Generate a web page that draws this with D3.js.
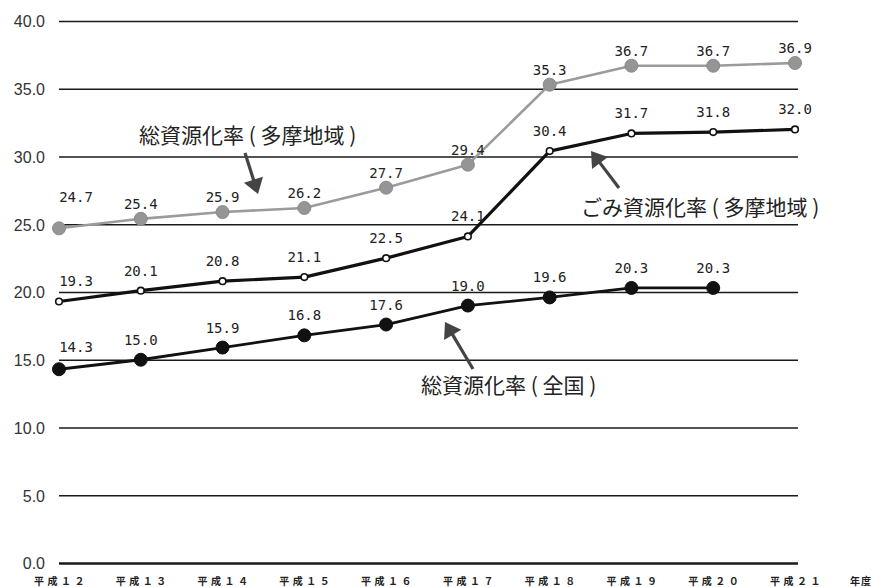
<!DOCTYPE html>
<html><head><meta charset="utf-8">
<script src="https://cdnjs.cloudflare.com/ajax/libs/d3/7.8.5/d3.min.js"></script>
<style>body{margin:0;background:#fff}svg{display:block}</style>
</head><body>
<script>
const categories = ["平成１２","平成１３","平成１４","平成１５","平成１６","平成１７","平成１８","平成１９","平成２０","平成２１"];
const tamaTotal = [24.7,25.4,25.9,26.2,27.7,29.4,35.3,36.7,36.7,36.9];
const tamaGarbage = [19.3,20.1,20.8,21.1,22.5,24.1,30.4,31.7,31.8,32.0];
const national = [14.3,15.0,15.9,16.8,17.6,19.0,19.6,20.3,20.3];
const yTicks = [0,5,10,15,20,25,30,35,40];

const W=876,H=587;
const svg=d3.select("body").append("svg").attr("width",W).attr("height",H);
const x=d3.scalePoint().domain(categories).range([59,795]);
const y=d3.scaleLinear().domain([0,40]).range([563,21]);

// grid
const yAxis=d3.axisLeft(y).tickValues(yTicks).tickFormat(d3.format(".1f")).tickSize(-739);
const gy=svg.append("g").attr("transform","translate(59,0)").call(yAxis);
gy.select(".domain").remove();
gy.selectAll(".tick line").attr("stroke","#1a1a1a").attr("stroke-width",d=>d===0?2.4:1.5);
gy.selectAll(".tick text").attr("font-family","Liberation Sans, Arial, sans-serif").attr("font-size",16).attr("fill","#333").attr("text-anchor","end").attr("x",-14).attr("dy","0.36em");

// x labels
const xAxis=d3.axisBottom(x).tickSize(0).tickPadding(0);
const gx=svg.append("g").attr("transform","translate(0,0)").call(xAxis);
gx.select(".domain").remove();
gx.selectAll(".tick text").attr("font-family","Noto Sans CJK JP").attr("font-size",10).attr("font-weight","bold").attr("letter-spacing","3.5px").attr("fill","#222").attr("y",585).attr("dy","0").attr("dx","1.5px");
svg.append("text").attr("x",861).attr("y",585).attr("text-anchor","middle").attr("font-family","Noto Sans CJK JP").attr("font-size",10).attr("font-weight","bold").attr("fill","#222").attr("letter-spacing","1px").text("年度");

const line=d3.line().x((d,i)=>x(categories[i])).y(d=>y(d));

function series(data,color,lw,r,fill,stroke,sw){
  svg.append("path").attr("d",line(data)).attr("fill","none").attr("stroke",color).attr("stroke-width",lw).attr("stroke-linejoin","round");
  svg.append("g").selectAll("circle").data(data).join("circle")
    .attr("cx",(d,i)=>x(categories[i])).attr("cy",d=>y(d)).attr("r",r)
    .attr("fill",fill).attr("stroke",stroke).attr("stroke-width",sw);
}
series(tamaTotal,"#9b9b9b",2.6,6.5,"#959595","#8a8a8a",1);
series(tamaGarbage,"#111",3.2,3.3,"#fff","#111",1.6);
series(national,"#111",2.8,6.5,"#111","#111",1);

function labels(data,dy,firstDy){
  svg.append("g").selectAll("text").data(data).join("text")
    .attr("x",(d,i)=>x(categories[i])+(i===0?17:0))
    .attr("y",(d,i)=>y(d)+(i===0?firstDy:dy))
    .attr("text-anchor","middle").attr("font-family","DejaVu Sans Mono, monospace").attr("font-size",14).attr("fill","#222")
    .text(d=>d.toFixed(1));
}
labels(tamaTotal,-10,-26);
labels(tamaGarbage,-15,-15);
labels(national,-15,-17);

// annotations
function arrow(x1,y1,x2,y2){
  const a=Math.atan2(y2-y1,x2-x1), L=15, w=10;
  const bx=x2-L*Math.cos(a), by=y2-L*Math.sin(a);
  svg.append("line").attr("x1",x1).attr("y1",y1).attr("x2",bx+2*Math.cos(a)).attr("y2",by+2*Math.sin(a)).attr("stroke","#444").attr("stroke-width",3.2);
  const p=[[x2,y2],[bx+w*Math.sin(a),by-w*Math.cos(a)],[bx-w*Math.sin(a),by+w*Math.cos(a)]];
  svg.append("path").attr("d","M"+p.map(q=>q.join(",")).join("L")+"Z").attr("fill","#444");
}
function note(tx,ty,t){
  svg.append("text").attr("x",tx).attr("y",ty).attr("font-family","Noto Sans CJK JP").attr("font-size",21).attr("fill","#222").text(t);
}
note(139,143,"総資源化率 ( 多摩地域 )");
arrow(245,153,258,194);
note(581,215,"ごみ資源化率 ( 多摩地域 )");
arrow(619,188,591,151);
note(421,393,"総資源化率 ( 全国 )");
arrow(473,369,445,322);
</script>
</body></html>
